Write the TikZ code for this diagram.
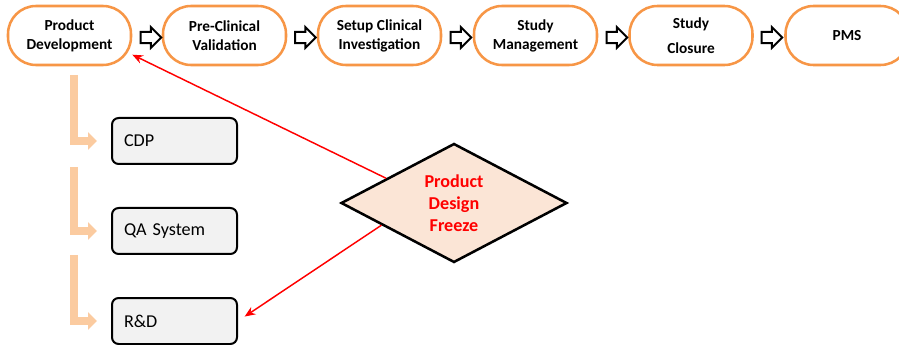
\documentclass[tikz,border=0pt]{standalone}
\usepackage{fontspec}
\setmainfont{Carlito}
\usetikzlibrary{shapes.geometric,shapes.arrows,arrows.meta}

\definecolor{stageorange}{RGB}{247,150,70}
\definecolor{branchpeach}{RGB}{251,203,160}
\definecolor{freezefill}{RGB}{251,229,214}
\definecolor{boxgray}{RGB}{242,242,242}

\tikzset{
  stage/.style={draw=stageorange, line width=1.9pt, fill=white, rounded corners=21pt,
    minimum width=92.25pt, minimum height=44.25pt, inner sep=0pt, align=center,
    font=\fontsize{11.5}{14.2}\selectfont\bfseries},
  stagearrow/.style={single arrow, draw=black, line width=1.5pt, fill=white,
    inner xsep=0pt, inner ysep=3.5pt, minimum height=15.5pt, single arrow head extend=3.5pt},
  part/.style={draw=black, line width=1.5pt, fill=boxgray, rounded corners=5pt,
    text width=75.75pt, inner xsep=9pt, minimum height=34.5pt, align=left,
    font=\fontsize{13.6}{16}\selectfont},
  branch/.style={draw=branchpeach, line width=6pt, -{Triangle[length=6.75pt,width=12.75pt]},
    shorten >=10.5pt},
  freeze/.style={diamond, draw=black, line width=1.9pt, fill=freezefill, aspect=1.9,
    minimum width=169.5pt, minimum height=89.25pt, inner sep=0pt, align=center, text=red,
    font=\fontsize{13.6}{16.5}\selectfont\bfseries},
  link/.style={draw=red, line width=1.1pt, -{Stealth[length=8pt,width=6.5pt]}}
}

\begin{document}
\begin{tikzpicture}[x=0.75pt,y=0.75pt,yscale=-1,xscale=1]
\useasboundingbox (0,0) rectangle (899,345);

% stages
\node (pd)  at (69.5,35.5)  [stage] {Product\\Development};
\node (pcv) at (224.5,35.5) [stage] {Pre-Clinical\\Validation};
\node (sci) at (379.5,35.5) [stage] {Setup Clinical\\Investigation};
\node (sm)  at (535.5,35.5) [stage] {Study\\Management};
\node (sc)  at (691,35.5)   [stage] {Study\\[4.5pt]Closure};
\node (pms) at (847,35.5)   [stage] {PMS};

\node (a1) at (148,37.5)   [stagearrow] {};
\node (a2) at (302.5,37.5) [stagearrow] {};
\node (a3) at (458,37.5)   [stagearrow] {};
\node (a4) at (614,37.5)   [stagearrow] {};
\node (a5) at (769,37.5)   [stagearrow] {};

% parts of product development
\node (cdp) at (174.5,141) [part] {CDP};
\node (qa)  at (174.5,231) [part] {QA System};
\node (rd)  at (174.5,321) [part] {R\&D};

\coordinate (b1) at (74,75);
\coordinate (b2) at (74,167);
\coordinate (b3) at (74,255);
\draw [branch] (b1) |- (cdp.west);
\draw [branch] (b2) |- (qa.west);
\draw [branch] (b3) |- (rd.west);

% design freeze
\node (pdf) at (454,203) [freeze] {Product\\Design\\Freeze};
\draw [link] (pdf.160) -- (pd.-17);
\draw [link, shorten >=6pt] (pdf.197) -- (rd.east);

\end{tikzpicture}
\end{document}
